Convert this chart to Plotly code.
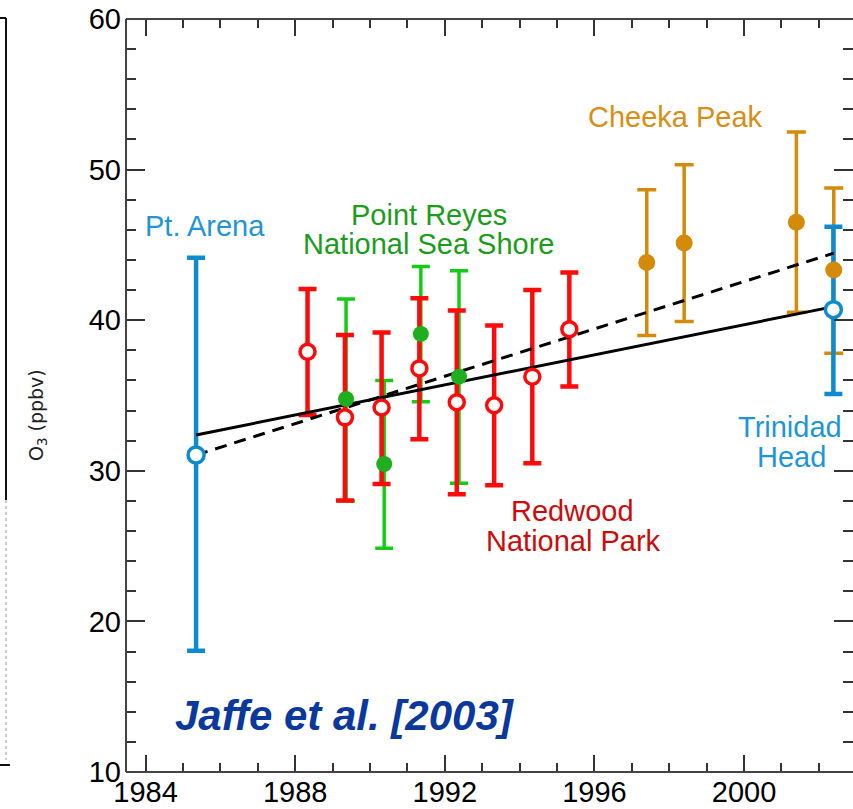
import plotly.graph_objects as go

# ---------------- data ----------------
# Pt. Arena (blue, open)
arena_year = [1985.35]
arena_o3 = [31.05]
arena_hi = [13.1]
arena_lo = [13.0]

# Trinidad Head (blue, open)
trinidad_year = [2002.39]
trinidad_o3 = [40.7]
trinidad_hi = [5.5]
trinidad_lo = [5.6]

# Redwood National Park (red, open)
redwood_year = [1988.33, 1989.33, 1990.31, 1991.32, 1992.32, 1993.32, 1994.34, 1995.33]
redwood_o3 = [37.9, 33.55, 34.2, 36.8, 34.55, 34.35, 36.25, 39.4]
redwood_hi = [4.17, 5.47, 4.98, 4.65, 6.09, 5.29, 5.76, 3.76]
redwood_lo = [4.2, 5.53, 5.07, 4.7, 6.11, 5.31, 5.75, 3.81]

# Point Reyes National Sea Shore (green, filled)
reyes_year = [1989.36, 1990.38, 1991.36, 1992.38]
reyes_o3 = [34.77, 30.45, 39.09, 36.25]
reyes_hi = [6.63, 5.54, 4.47, 7.03]
reyes_lo = [6.77, 5.6, 4.5, 7.08]

# Cheeka Peak (orange, filled)
cheeka_year = [1997.4, 1998.4, 2001.4, 2002.4]
cheeka_o3 = [43.83, 45.12, 46.51, 43.34]
cheeka_hi = [4.83, 5.2, 5.98, 5.43]
cheeka_lo = [4.85, 5.21, 5.98, 5.53]

# Trend lines (end points)
trend_year = [1985.35, 2002.4]
trend_solid = [32.38, 40.9]
trend_dashed = [31.05, 44.45]

x_ticks = [1984, 1988, 1992, 1996, 2000]
y_ticks = [10, 20, 30, 40, 50, 60]

# ---------------- style ----------------
BLUE = "#0d8bd1"
BLUE_T = "#1f95d8"
GREEN_BAR = "#14cc14"
GREEN_DOT = "#1fae1f"
GREEN_T = "#1c9c1c"
RED = "#ff0a0a"
RED_T = "#cc0b0b"
ORANGE = "#d48a0a"
ORANGE_T = "#d88e16"
NAVY = "#0a389c"
FONT = "Liberation Sans, Arial, sans-serif"

L, T, B, W, H = 126, 19, 37, 853, 809
PW = W - L
PH = H - T - B


def px2paper(px, py):
    return (px - L) / PW, (H - B - py) / PH


def errtrace(x, y, hi, lo, color, thick, capw):
    return go.Scatter(
        x=x, y=y, mode="markers",
        marker=dict(size=1, color="rgba(0,0,0,0)"),
        error_y=dict(type="data", symmetric=False, array=hi, arrayminus=lo,
                     color=color, thickness=thick, width=capw),
        showlegend=False, hoverinfo="skip")


fig = go.Figure()
fig.add_trace(errtrace(reyes_year, reyes_o3, reyes_hi, reyes_lo, GREEN_BAR, 3.5, 9))
fig.add_trace(errtrace(redwood_year, redwood_o3, redwood_hi, redwood_lo, RED, 4.5, 9))
fig.add_trace(errtrace(cheeka_year, cheeka_o3, cheeka_hi, cheeka_lo, ORANGE, 3.5, 9.5))
fig.add_trace(errtrace(arena_year, arena_o3, arena_hi, arena_lo, BLUE, 4.5, 9))
fig.add_trace(errtrace(trinidad_year, trinidad_o3, trinidad_hi, trinidad_lo, BLUE, 4.5, 9))

fig.add_trace(go.Scatter(x=trend_year, y=trend_solid, mode="lines",
                         line=dict(color="black", width=3), showlegend=False))
fig.add_trace(go.Scatter(x=trend_year, y=trend_dashed, mode="lines",
                         line=dict(color="black", width=3, dash="12px,8px"), showlegend=False))

fig.add_trace(go.Scatter(x=reyes_year, y=reyes_o3, mode="markers",
                         marker=dict(size=16, color=GREEN_DOT, line=dict(width=0)), showlegend=False))
fig.add_trace(go.Scatter(x=redwood_year, y=redwood_o3, mode="markers",
                         marker=dict(size=15, color="white", line=dict(color=RED, width=3.5)), showlegend=False))
fig.add_trace(go.Scatter(x=cheeka_year, y=cheeka_o3, mode="markers",
                         marker=dict(size=17, color=ORANGE, line=dict(width=0)), showlegend=False))
fig.add_trace(go.Scatter(x=arena_year + trinidad_year, y=arena_o3 + trinidad_o3, mode="markers",
                         marker=dict(size=16, color="white", line=dict(color=BLUE, width=3.5)), showlegend=False))

ann = [
    dict(text="Pt. Arena", x=1985.60, y=46.27, color=BLUE_T),
    dict(text="Point Reyes", x=1991.59, y=47.0, color=GREEN_T),
    dict(text="National Sea Shore", x=1991.59, y=45.05, color=GREEN_T),
    dict(text="Cheeka Peak", x=1998.17, y=53.5, color=ORANGE_T),
    dict(text="Trinidad", x=2001.22, y=32.91, color=BLUE_T),
    dict(text="Head", x=2001.26, y=30.92, color=BLUE_T),
    dict(text="Redwood", x=1995.41, y=27.33, color=RED_T),
    dict(text="National Park", x=1995.44, y=25.36, color=RED_T),
]
for a in ann:
    fig.add_annotation(x=a["x"], y=a["y"], xref="x", yref="y", text=a["text"],
                       showarrow=False, xanchor="center", yanchor="middle",
                       font=dict(family=FONT, size=29, color=a["color"]))

fig.add_annotation(x=1989.32, y=13.75, xref="x", yref="y",
                   text="<b><i>Jaffe et al. [2003]</i></b>", showarrow=False,
                   xanchor="center", yanchor="middle",
                   font=dict(family=FONT, size=42, color=NAVY))

tx, ty = px2paper(37, 415)
fig.add_annotation(x=tx, y=ty, xref="paper", yref="paper", text="O<sub>3</sub> (ppbv)",
                   textangle=-90, showarrow=False, xanchor="center", yanchor="middle",
                   font=dict(family="DejaVu Sans", size=19, color="#222"))

# axis lines (left, bottom, top)
axis_line = dict(color="#444", width=2)
fig.add_shape(type="line", xref="paper", yref="paper", x0=0, x1=0, y0=0, y1=1, line=axis_line)
fig.add_shape(type="line", xref="paper", yref="paper", x0=0, x1=1, y0=0, y1=0, line=axis_line)
fig.add_shape(type="line", xref="paper", yref="paper", x0=0, x1=1, y0=1, y1=1, line=axis_line)

# remnant frame at far left
x6, y18 = px2paper(6, 18)
_, y500 = px2paper(6, 500)
_, y760 = px2paper(6, 760)
x0p, _ = px2paper(0, 18)
_, y765 = px2paper(0, 765)
x9, _ = px2paper(10, 765)
fig.add_shape(type="line", xref="paper", yref="paper", x0=x6, x1=x6, y0=y18, y1=y500,
              line=dict(color="#111", width=2))
fig.add_shape(type="line", xref="paper", yref="paper", x0=x6, x1=x6, y0=y500, y1=y760,
              line=dict(color="#999", width=1, dash="dot"))
fig.add_shape(type="line", xref="paper", yref="paper", x0=x0p, x1=x6, y0=y18, y1=y18,
              line=dict(color="#111", width=2))
fig.add_shape(type="line", xref="paper", yref="paper", x0=x0p, x1=x9, y0=y765, y1=y765,
              line=dict(color="#111", width=2))

xmin = 1984 - 19.6 / 37.4
xmax = xmin + PW / 37.4

fig.update_xaxes(range=[xmin, xmax], tickmode="array", tickvals=x_ticks,
                 ticktext=[str(v) for v in x_ticks],
                 ticks="inside", ticklen=17, tickwidth=1.8, tickcolor="#333",
                 mirror="ticks", showline=False, showgrid=False, zeroline=False,
                 minor=dict(dtick=1, tick0=1984, ticks="inside", ticklen=9, tickwidth=1.8,
                            tickcolor="#333", showgrid=False),
                 tickfont=dict(family=FONT, size=29, color="black"))
fig.update_yaxes(range=[10, 60], tickmode="array", tickvals=y_ticks,
                 ticktext=[str(v) for v in y_ticks],
                 ticks="inside", ticklen=19, tickwidth=1.8, tickcolor="#333",
                 mirror="ticks", showline=False, showgrid=False, zeroline=False,
                 minor=dict(dtick=2, tick0=10, ticks="inside", ticklen=10, tickwidth=1.8,
                            tickcolor="#333", showgrid=False),
                 ticklabelstandoff=4,
                 tickfont=dict(family=FONT, size=29, color="black"))

fig.update_layout(width=W, height=H, margin=dict(l=L, r=0, t=T, b=B, pad=0),
                  plot_bgcolor="white", paper_bgcolor="white", showlegend=False)

fig.write_html("out.html")
